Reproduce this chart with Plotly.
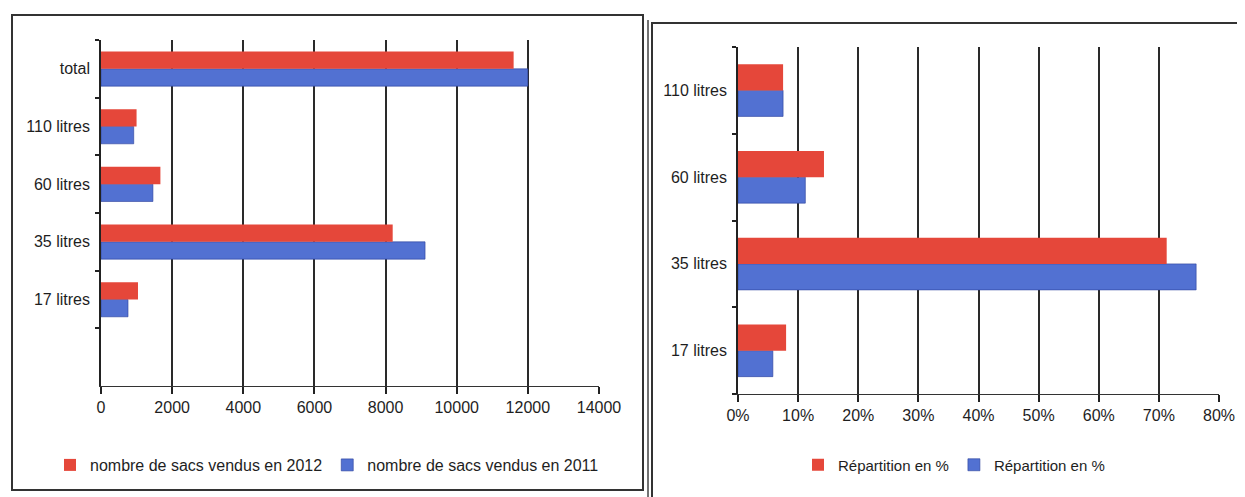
import plotly.graph_objects as go

# the page body has an 8px default margin; the figure fills the rest of the window
OFF = 8
W, H = 1245 - OFF, 497 - OFF

# ---- data ----
cat_left = ["17 litres", "35 litres", "60 litres", "110 litres", "total"]
sacs_2012 = [1040, 8200, 1670, 1000, 11600]
sacs_2011 = [760, 9110, 1460, 920, 12000]
name_2012 = "nombre de sacs vendus en 2012"
name_2011 = "nombre de sacs vendus en 2011"

cat_right = ["17 litres", "35 litres", "60 litres", "110 litres"]
rep_red = [0.080, 0.713, 0.143, 0.075]
rep_blue = [0.058, 0.762, 0.112, 0.075]
name_rep = "Répartition en %"

left_ticks = [0, 2000, 4000, 6000, 8000, 10000, 12000, 14000]
right_ticks = [0, 0.1, 0.2, 0.3, 0.4, 0.5, 0.6, 0.7, 0.8]
right_ticktext = ["0%", "10%", "20%", "30%", "40%", "50%", "60%", "70%", "80%"]

RED = "#E5473A"
BLUE = "#5271D2"
FONT = "Liberation Sans, Arial, sans-serif"
INK = "#1e1e1e"


def px_x(p):
    return (p - OFF) / W


def px_y(p):
    return 1 - (p - OFF) / H


fig = go.Figure()

# blue first so that it sits below the red bar in each group
fig.add_trace(go.Bar(y=cat_left, x=sacs_2011, name=name_2011, orientation="h",
                     marker=dict(color=BLUE, line=dict(width=0.6, color="#2a3f9a")),
                     xaxis="x", yaxis="y", legend="legend", legendrank=2))
fig.add_trace(go.Bar(y=cat_left, x=sacs_2012, name=name_2012, orientation="h",
                     marker=dict(color=RED, line=dict(width=0)),
                     xaxis="x", yaxis="y", legend="legend", legendrank=1))

fig.add_trace(go.Bar(y=cat_right, x=rep_blue, name=name_rep, orientation="h",
                     marker=dict(color=BLUE, line=dict(width=0.6, color="#2a3f9a")),
                     xaxis="x2", yaxis="y2", legend="legend2", legendrank=2))
fig.add_trace(go.Bar(y=cat_right, x=rep_red, name=name_rep, orientation="h",
                     marker=dict(color=RED, line=dict(width=0)),
                     xaxis="x2", yaxis="y2", legend="legend2", legendrank=1))

axis_common_x = dict(showgrid=True, gridcolor="#2a2a2a", gridwidth=1.6,
                     zeroline=False, showline=True, linecolor="#333", linewidth=1.2,
                     ticks="outside", ticklen=7, tickcolor="#222", tickwidth=1.5,
                     automargin=False,
                     tickfont=dict(family=FONT, size=16, color=INK))
axis_common_y = dict(type="category", showgrid=False, zeroline=False,
                     showline=True, linecolor="#222", linewidth=1.6,
                     ticks="outside", ticklen=4, tickcolor="#222", tickwidth=1.5,
                     tickson="boundaries", automargin=False, ticklabelstandoff=6,
                     tickfont=dict(family=FONT, size=16, color=INK))

fig.update_layout(
    width=W, height=H,
    margin=dict(l=0, r=0, t=0, b=0),
    paper_bgcolor="white", plot_bgcolor="white",
    barmode="group", bargap=0.4, bargroupgap=0.0,
    font=dict(family=FONT, size=16, color=INK),
    xaxis=dict(domain=[px_x(101), px_x(599)], range=[0, 14000],
               tickvals=left_ticks, tickformat="d", anchor="y", **axis_common_x),
    yaxis=dict(domain=[px_y(386), px_y(40)], range=[-1.5, 4.5],
               categoryorder="array", categoryarray=cat_left,
               anchor="x", **axis_common_y),
    xaxis2=dict(domain=[px_x(738), px_x(1219)], range=[0, 0.8],
                tickvals=right_ticks, ticktext=right_ticktext, anchor="y2",
                **axis_common_x),
    yaxis2=dict(domain=[px_y(394), px_y(47)], range=[-0.5, 3.5],
                categoryorder="array", categoryarray=cat_right,
                anchor="x2", **axis_common_y),
    legend=dict(orientation="h", x=px_x(50), xanchor="left",
                y=px_y(465), yanchor="middle",
                font=dict(family=FONT, size=16, color=INK),
                itemwidth=30, traceorder="normal", bgcolor="rgba(0,0,0,0)"),
    legend2=dict(orientation="h", x=px_x(798), xanchor="left",
                 y=px_y(465), yanchor="middle",
                 font=dict(family=FONT, size=15, color=INK),
                 itemwidth=30, traceorder="normal", bgcolor="rgba(0,0,0,0)"),
)

# panel frames (scanned page borders)
frames = [
    (12, 15, 643, 490),
    (652, 23, 1243, 510),
]
for x0, y0, x1, y1 in frames:
    fig.add_shape(type="rect", xref="paper", yref="paper",
                  x0=px_x(x0), x1=px_x(x1), y0=px_y(y1), y1=px_y(y0),
                  line=dict(color="#333", width=2), fillcolor="rgba(0,0,0,0)",
                  layer="above")
fig.add_shape(type="line", xref="paper", yref="paper",
              x0=px_x(648), x1=px_x(648), y0=px_y(510), y1=px_y(20),
              line=dict(color="#444", width=1.5))

fig.write_html("out.html")
